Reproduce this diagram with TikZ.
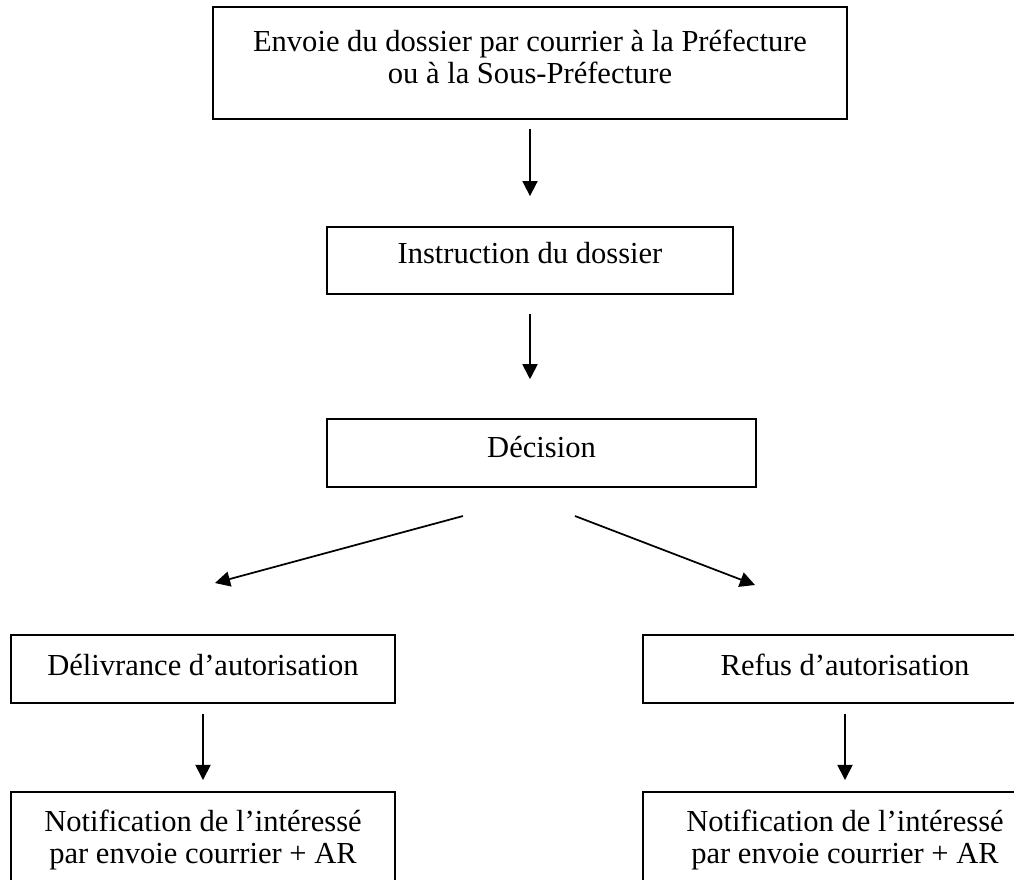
\documentclass[tikz,border=0pt]{standalone}
\usepackage{fontspec}
\setmainfont{Liberation Serif}
\usetikzlibrary{arrows.meta}
% extra depth under the last line, so the text sits a bit high in its box
\newcommand{\lift}[1][5.5pt]{\rule[-#1]{0pt}{0pt}}

\begin{document}
\begin{tikzpicture}[x=0.432pt, y=-0.432pt, font=\fontsize{13.2}{13.8}\selectfont,
    box/.style={draw=black, line width=0.75pt, rectangle, align=center, inner sep=0pt},
    arr/.style={line width=0.75pt, -{Triangle[length=6.5pt,width=6.5pt]}}]
  \useasboundingbox (0,0) rectangle (1014,879);
  \clip (0,0) rectangle (1014,879);

  % Place the boxes
  \node[box, minimum width=273.9pt, minimum height=48.4pt] (envoi) at (530,63)
    {Envoie du dossier par courrier à la Préfecture\\ou à la Sous-Préfecture\lift};
  \node[box, minimum width=175.4pt, minimum height=28.9pt] (instr) at (530,260.5) {Instruction du dossier\lift[6.5pt]};
  \node[box, minimum width=185.3pt, minimum height=29.4pt] (decis) at (541.5,453) {Décision\lift};
  \node[box, minimum width=165.9pt, minimum height=29.4pt] (deliv) at (203,669) {Délivrance d’autorisation\lift[4pt]};
  \node[box, minimum width=174.5pt, minimum height=29.4pt] (refus) at (845,669) {Refus d’autorisation\lift[4pt]};
  \node[box, minimum width=165.9pt, minimum height=48.4pt] (notif1) at (203,848)
    {Notification de l’intéressé\\par envoie courrier + AR\lift[10pt]};
  \node[box, minimum width=174.5pt, minimum height=48.4pt] (notif2) at (845,848)
    {Notification de l’intéressé\\par envoie courrier + AR\lift[10pt]};

  % Ends of the slanted arrows
  \coordinate (dl) at (463,516);
  \coordinate (dr) at (575,516);
  \coordinate (tl) at (215,583);
  \coordinate (tr) at (755,585);

  % The arrows!
  \draw[arr, shorten <=3.9pt, shorten >=13pt] (envoi) -- (instr);
  \draw[arr, shorten <=8.2pt, shorten >=16.8pt] (instr) -- (decis.north -| instr.south);
  \draw[arr] (dl) -- (tl);
  \draw[arr] (dr) -- (tr);
  \draw[arr, shorten <=4.3pt, shorten >=4.8pt] (deliv) -- (notif1);
  \draw[arr, shorten <=4.3pt, shorten >=4.8pt] (refus) -- (notif2);
\end{tikzpicture}
\end{document}
